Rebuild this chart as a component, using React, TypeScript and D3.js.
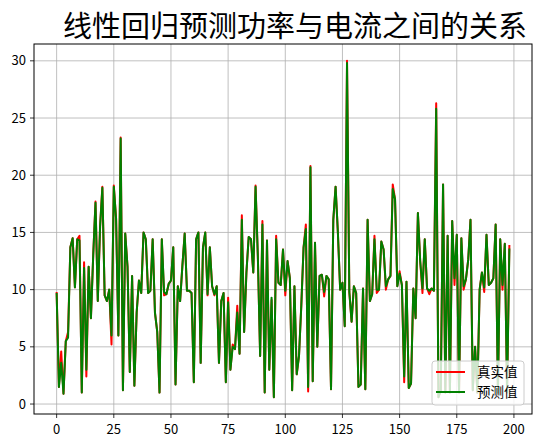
import React from "react";
import * as d3 from "d3";

const W = 546;
const H = 447;

const title = "线性回归预测功率与电流之间的关系";
const seriesNames = ["真实值", "预测值"];
const seriesColors = ["#ff0000", "#008000"];
const xTicks = [0, 25, 50, 75, 100, 125, 150, 175, 200];
const yTicks = [0, 5, 10, 15, 20, 25, 30];

const actual = [
  9.8, 1.5, 4.6, 0.9, 5.5, 6.3, 13.7, 14.5, 10.2, 14.4,
  14.7, 1.0, 12.4, 2.4, 12.0, 7.5, 13.0, 17.7, 9.0, 15.5,
  19.0, 9.5, 9.0, 10.0, 5.2, 19.1, 16.2, 6.0, 23.3, 1.2,
  14.9, 12.0, 2.8, 11.2, 1.6, 8.0, 10.8, 9.7, 15.0, 14.4,
  9.7, 9.9, 14.4, 8.0, 6.3, 1.0, 14.4, 9.5, 9.6, 10.5,
  10.8, 13.7, 1.7, 10.3, 9.0, 12.1, 14.9, 9.9, 9.9, 9.7,
  1.9, 14.4, 15.0, 3.6, 13.7, 15.0, 9.5, 13.7, 10.3, 9.5,
  10.3, 3.6, 9.0, 9.7, 1.9, 9.3, 3.0, 5.2, 4.8, 8.6,
  4.4, 16.5, 6.3, 11.5, 14.6, 14.4, 11.5, 19.1, 12.9, 4.2,
  16.0, 1.0, 14.3, 3.0, 9.1, 0.6, 14.7, 10.6, 10.4, 13.5,
  9.5, 12.5, 11.0, 1.2, 10.3, 2.6, 4.2, 8.6, 13.7, 15.7,
  1.1, 20.8, 2.0, 14.1, 5.0, 11.2, 11.3, 9.4, 11.2, 10.9,
  1.3, 16.1, 19.0, 15.0, 10.0, 10.6, 6.8, 30.0, 9.8, 7.2,
  10.3, 9.7, 1.5, 1.7, 10.1, 1.3, 16.1, 9.0, 9.6, 14.7,
  9.7, 10.0, 14.2, 13.5, 10.0, 10.9, 11.2, 19.2, 17.9, 10.3,
  11.6, 10.4, 1.9, 10.7, 1.4, 1.8, 10.1, 7.5, 16.7, 12.5,
  9.7, 14.4, 10.1, 9.6, 10.1, 9.9, 26.3, 0.6, 1.2, 19.2,
  1.0, 14.7, 1.0, 16.0, 10.4, 14.8, 1.0, 14.5, 10.0, 10.9,
  12.6, 16.1, 1.2, 5.0, 1.0, 10.0, 11.5, 9.8, 14.8, 10.4,
  10.6, 11.0, 15.7, 1.0, 14.4, 10.0, 14.0, 1.0, 13.9,
];

const predicted = [
  9.7, 1.5, 3.6, 0.9, 5.5, 5.8, 13.7, 14.5, 10.2, 14.4,
  14.3, 1.0, 11.9, 3.0, 12.0, 7.5, 13.0, 17.6, 9.0, 15.5,
  18.9, 9.5, 9.0, 10.0, 6.0, 19.0, 16.2, 6.0, 23.2, 1.2,
  14.9, 12.0, 2.8, 11.2, 1.6, 8.0, 10.8, 9.7, 15.0, 14.4,
  9.7, 9.9, 14.4, 8.0, 6.3, 1.0, 14.4, 9.8, 9.6, 10.5,
  10.8, 13.7, 1.7, 10.3, 9.0, 12.1, 14.9, 9.9, 9.9, 9.7,
  1.9, 14.4, 15.0, 3.6, 13.7, 15.0, 9.6, 13.7, 10.3, 9.6,
  10.3, 3.6, 9.0, 9.7, 1.9, 8.9, 3.0, 5.0, 4.8, 8.0,
  4.4, 16.1, 6.3, 11.5, 14.6, 14.4, 11.5, 19.0, 12.9, 4.2,
  15.7, 1.0, 14.3, 3.0, 9.3, 0.6, 14.4, 10.6, 10.4, 13.5,
  9.9, 12.5, 11.0, 1.2, 10.3, 2.6, 4.2, 8.6, 13.7, 15.3,
  1.5, 20.7, 2.0, 14.1, 5.0, 11.2, 11.3, 9.8, 11.2, 10.9,
  1.3, 16.1, 19.0, 15.0, 10.0, 10.6, 6.8, 29.8, 9.8, 7.2,
  10.3, 9.7, 1.5, 1.7, 10.1, 1.3, 16.1, 9.0, 9.6, 14.4,
  10.0, 10.0, 14.2, 13.5, 10.3, 10.9, 11.2, 18.8, 17.9, 10.3,
  11.4, 10.4, 2.4, 10.7, 1.4, 1.8, 10.1, 7.5, 16.7, 12.5,
  10.1, 14.4, 10.1, 9.9, 10.1, 9.9, 25.8, 0.6, 1.2, 19.2,
  1.0, 14.7, 1.0, 16.0, 11.0, 14.8, 1.0, 14.5, 10.3, 10.9,
  12.6, 16.1, 1.2, 5.0, 1.0, 10.0, 11.5, 10.2, 14.8, 10.4,
  10.6, 11.0, 15.7, 1.0, 14.4, 10.4, 14.0, 1.0, 13.6,
];

const PLOT = { left: 34, right: 532, top: 44, bottom: 414 };
const FONT = "'Noto Sans CJK SC', 'Noto Sans', sans-serif";

export default function App() {
  const n = actual.length;
  const xPad = (n - 1) * 0.05;
  const x = d3
    .scaleLinear()
    .domain([-xPad, n - 1 + xPad])
    .range([PLOT.left, PLOT.right]);
  const all = actual.concat(predicted);
  const [ymin, ymax] = d3.extent(all) as [number, number];
  const yPad = (ymax - ymin) * 0.05;
  const y = d3
    .scaleLinear()
    .domain([ymin - yPad, ymax + yPad])
    .range([PLOT.bottom, PLOT.top]);

  const line = d3
    .line<number>()
    .x((_, i) => x(i))
    .y((d) => y(d));

  const series = [actual, predicted];

  const legX = 432;
  const legY = 361;

  return (
    <svg
      width={W}
      height={H}
      style={{ position: "absolute", left: 0, top: 0, background: "#fff" }}
      fontFamily={FONT}
    >
      <rect x={0} y={0} width={W} height={H} fill="#fff" />
      {/* grid */}
      {xTicks.map((t) => (
        <line key={"gx" + t} x1={x(t)} x2={x(t)} y1={PLOT.top} y2={PLOT.bottom} stroke="#b0b0b0" strokeWidth={0.8} />
      ))}
      {yTicks.map((t) => (
        <line key={"gy" + t} x1={PLOT.left} x2={PLOT.right} y1={y(t)} y2={y(t)} stroke="#b0b0b0" strokeWidth={0.8} />
      ))}
      {/* lines */}
      <g clipPath="url(#clip)">
        {series.map((s, k) => (
          <path
            key={k}
            d={line(s) || ""}
            fill="none"
            stroke={seriesColors[k]}
            strokeWidth={2}
            strokeLinejoin="round"
          />
        ))}
      </g>
      <defs>
        <clipPath id="clip">
          <rect x={PLOT.left} y={PLOT.top} width={PLOT.right - PLOT.left} height={PLOT.bottom - PLOT.top} />
        </clipPath>
      </defs>
      {/* spines */}
      <rect
        x={PLOT.left}
        y={PLOT.top}
        width={PLOT.right - PLOT.left}
        height={PLOT.bottom - PLOT.top}
        fill="none"
        stroke="#000"
        strokeWidth={1}
      />
      {/* x ticks */}
      {xTicks.map((t) => (
        <g key={"tx" + t}>
          <line x1={x(t)} x2={x(t)} y1={PLOT.bottom} y2={PLOT.bottom + 4} stroke="#000" strokeWidth={0.8} />
          <text x={x(t)} y={PLOT.bottom + 20} textAnchor="middle" fontSize={13} fill="#000">
            {t}
          </text>
        </g>
      ))}
      {/* y ticks */}
      {yTicks.map((t) => (
        <g key={"ty" + t}>
          <line x1={PLOT.left - 4} x2={PLOT.left} y1={y(t)} y2={y(t)} stroke="#000" strokeWidth={0.8} />
          <text x={PLOT.left - 8} y={y(t)} dy="0.35em" textAnchor="end" fontSize={13} fill="#000">
            {t}
          </text>
        </g>
      ))}
      {/* title */}
      <text x={295} y={37} textAnchor="middle" fontSize={29} fill="#000">
        {title}
      </text>
      {/* legend */}
      <rect x={legX} y={legY} width={92} height={44} rx={3} fill="#fff" fillOpacity={0.8} stroke="#cccccc" strokeWidth={1} />
      {seriesNames.map((name, k) => (
        <g key={name}>
          <line
            x1={legX + 4}
            x2={legX + 33}
            y1={legY + 11 + k * 20}
            y2={legY + 11 + k * 20}
            stroke={seriesColors[k]}
            strokeWidth={2}
          />
          <text x={legX + 45} y={legY + 11 + k * 20} dy="0.36em" fontSize={13.5} fill="#000">
            {name}
          </text>
        </g>
      ))}
    </svg>
  );
}
